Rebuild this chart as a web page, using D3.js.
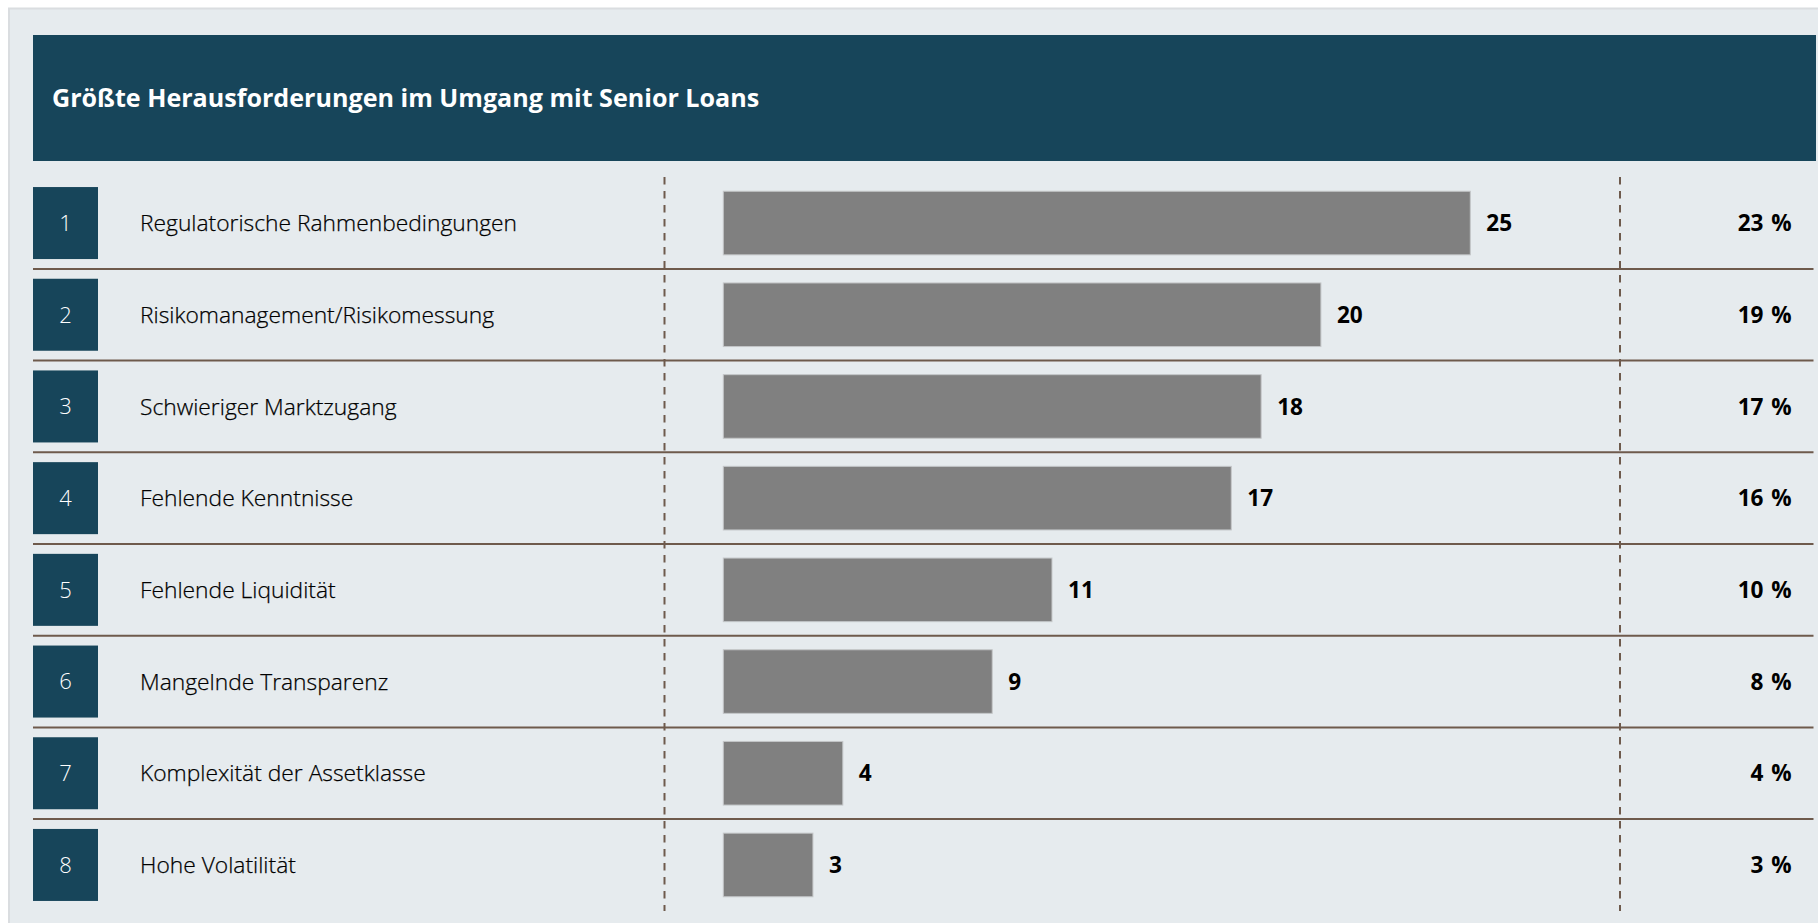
<!DOCTYPE html>
<html>
<head>
<meta charset="utf-8">
<script src="https://cdn.jsdelivr.net/npm/d3@7"></script>
<style>
  html, body { margin: 0; padding: 0; background: #ffffff; }
  svg { display: block; }
</style>
</head>
<body>
<svg id="chart" width="1818" height="923"></svg>
<script>
const title = "Größte Herausforderungen im Umgang mit Senior Loans";
const ranks = ["1", "2", "3", "4", "5", "6", "7", "8"];
const categories = [
  "Regulatorische Rahmenbedingungen",
  "Risikomanagement/Risikomessung",
  "Schwieriger Marktzugang",
  "Fehlende Kenntnisse",
  "Fehlende Liquidität",
  "Mangelnde Transparenz",
  "Komplexität der Assetklasse",
  "Hohe Volatilität"
];
const counts = [25, 20, 18, 17, 11, 9, 4, 3];
const percentLabels = ["23 %", "19 %", "17 %", "16 %", "10 %", "8 %", "4 %", "3 %"];

const svg = d3.select("#chart");
const FONT = "'Open Sans', 'Noto Sans', sans-serif";
const dark = "#17455a";
const brown = "#6e5a4c";

// panel
svg.append("rect").attr("x", 9).attr("y", 8.5).attr("width", 1830).attr("height", 940)
  .attr("fill", "#e6ebee").attr("stroke", "#dadde0").attr("stroke-width", 2);

// header
svg.append("rect").attr("x", 33).attr("y", 35).attr("width", 1783).attr("height", 126).attr("fill", dark);
svg.append("text").attr("x", 52).attr("y", 107)
  .attr("font-family", FONT).attr("font-weight", 700).attr("font-size", 25.1)
  .attr("fill", "#ffffff").text(title);

const y = d3.scaleBand().domain(ranks).range([177.2, 177.2 + 8 * 91.7]).padding(0);
const x = d3.scaleLinear().domain([0, 25]).range([723.3, 1470.3]);

const rows = svg.append("g").selectAll("g").data(ranks).join("g")
  .attr("transform", d => `translate(0,${y(d) + y.bandwidth() / 2})`);

// separators (between rows)
rows.filter((d, i) => i < ranks.length - 1).append("line")
  .attr("x1", 33).attr("x2", 1813.5)
  .attr("y1", y.bandwidth() / 2).attr("y2", y.bandwidth() / 2)
  .attr("stroke", brown).attr("stroke-width", 2);

// rank boxes
rows.append("rect").attr("x", 33).attr("y", -36).attr("width", 65).attr("height", 72).attr("fill", dark);
rows.append("text").attr("x", 65.5).attr("y", 0).attr("dy", "0.36em")
  .attr("text-anchor", "middle").attr("font-family", FONT).attr("font-weight", 300)
  .attr("font-size", 22).attr("fill", "#ffffff").text(d => d);

// category labels
rows.append("text").attr("x", 140).attr("y", 0).attr("dy", "0.36em")
  .attr("font-family", FONT).attr("font-weight", 300).attr("font-size", 22.8)
  .attr("fill", "#000000").attr("stroke", "#000000").attr("stroke-width", 0.25)
  .text((d, i) => categories[i]);

// bars
rows.append("rect").attr("x", x(0)).attr("y", -31.8)
  .attr("width", (d, i) => x(counts[i]) - x(0)).attr("height", 63.6)
  .attr("fill", "#808080").attr("stroke", "#c4c6c8").attr("stroke-width", 1);

// value labels
rows.append("text").attr("x", (d, i) => x(counts[i]) + 16).attr("y", 0).attr("dy", "0.36em")
  .attr("font-family", FONT).attr("font-weight", 700).attr("font-size", 22.6)
  .attr("fill", "#000000").text((d, i) => counts[i]);

// percent labels
rows.append("text").attr("x", 1791.7).attr("y", 0).attr("dy", "0.36em").attr("text-anchor", "end")
  .attr("font-family", FONT).attr("font-weight", 700).attr("font-size", 22.6)
  .attr("fill", "#000000").attr("word-spacing", 2).text((d, i) => percentLabels[i]);

// dashed verticals
[664.5, 1620].forEach(xx => {
  svg.append("line").attr("x1", xx).attr("x2", xx).attr("y1", 177).attr("y2", 911)
    .attr("stroke", brown).attr("stroke-width", 2).attr("stroke-dasharray", "7.5,6.5");
});
</script>
</body>
</html>
